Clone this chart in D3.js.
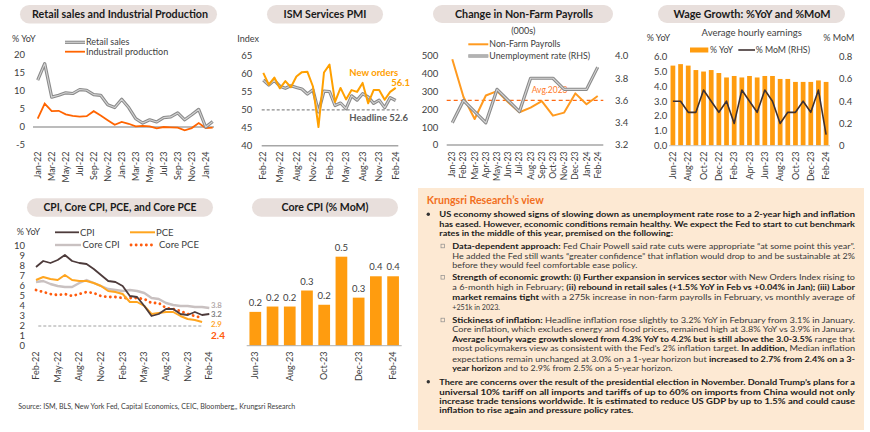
<!DOCTYPE html>
<html><head><meta charset="utf-8">
<script src="https://cdn.jsdelivr.net/npm/d3@7"></script>
<style>
body{margin:0;background:#fff}
svg{display:block}
text{font-family:Lato,'Open Sans',sans-serif}
</style></head>
<body><svg id="c" width="870" height="432"></svg>
<script>
// ---------------- DATA ----------------
const months = ["Jan-22","Feb-22","Mar-22","Apr-22","May-22","Jun-22","Jul-22","Aug-22","Sep-22","Oct-22","Nov-22","Dec-22",
  "Jan-23","Feb-23","Mar-23","Apr-23","May-23","Jun-23","Jul-23","Aug-23","Sep-23","Oct-23","Nov-23","Dec-23","Jan-24","Feb-24"];

// Chart 1: Retail sales & industrial production (% YoY), Jan-22..Feb-24
const retailMonths = months;
const retailSales = [13.0,17.6,8.3,8.8,9.5,9.3,10.4,10.2,9.0,8.8,6.2,5.4,7.7,5.4,2.3,1.1,2.0,1.4,2.6,2.8,3.9,2.0,3.4,4.9,0.0,1.5];
const industrialProd = [2.3,6.5,4.4,4.5,3.5,3.1,2.9,3.0,4.4,3.2,1.9,0.6,1.4,0.9,0.2,0.3,0.2,-0.4,0.0,-0.1,-0.2,-0.9,-0.3,1.1,-0.3,-0.2];
const retailTicks = [-5,0,5,10,15,20];
const retailLabels = ["Jan-22","Mar-22","May-22","Jul-22","Sep-22","Nov-22","Jan-23","Mar-23","May-23","Jul-23","Sep-23","Nov-23","Jan-24"];

// Chart 2: ISM services PMI, Feb-22..Feb-24
const ismMonths = months.slice(1);
const ismNewOrders = [60.3,57.0,59.0,56.0,58.0,56.3,59.3,60.5,60.6,56.5,45.2,60.4,62.6,52.2,56.1,52.9,55.5,55.0,57.5,51.8,55.5,55.5,52.8,55.0,56.1];
const ismHeadline = [58.3,56.9,58.2,56.6,56.0,56.7,56.2,55.8,54.4,55.6,49.4,55.2,55.1,51.2,51.9,50.3,53.9,52.7,54.5,53.6,51.8,52.7,50.6,53.4,52.6];
const ismTicks = [40,45,50,55,60,65];
const ismLabels = ["Feb-22","May-22","Aug-22","Nov-22","Feb-23","May-23","Aug-23","Nov-23","Feb-24"];
const ismRef = 50;

// Chart 3: Non-farm payrolls (000s) & unemployment rate, Jan-23..Feb-24
const nfpMonths = months.slice(12);
const payrolls = [482,270,146,278,303,240,184,210,246,165,182,290,229,275];
const unemployment = [3.4,3.6,3.5,3.4,3.7,3.6,3.5,3.8,3.8,3.8,3.7,3.7,3.7,3.9];
const nfpAvg2023 = 251;
const nfpTicks = [0,100,200,300,400,500];
const urTicks = [3.2,3.4,3.6,3.8,4.0];

// Chart 4: Wage growth, Jun-22..Feb-24
const wageMonths = months.slice(5);
const wageYoY = [5.4,5.5,5.4,5.1,5.0,5.1,4.9,4.6,4.7,4.6,4.7,4.6,4.7,4.7,4.5,4.5,4.3,4.3,4.3,4.4,4.3];
const wageMoM = [0.4,0.4,0.3,0.3,0.5,0.4,0.3,0.4,0.2,0.5,0.4,0.3,0.5,0.4,0.2,0.3,0.3,0.4,0.3,0.5,0.1];
const wageTicksL = [0,1,2,3,4,5,6];
const wageTicksR = [0,0.2,0.4,0.6,0.8];
const wageLabels = ["Jun-22","Aug-22","Oct-22","Dec-22","Feb-23","Apr-23","Jun-23","Aug-23","Oct-23","Dec-23","Feb-24"];

// Chart 5: CPI, Core CPI, PCE, Core PCE (% YoY), Feb-22..Feb-24
const cpiMonths = months.slice(1);
const cpi = [7.9,8.5,8.3,8.6,9.1,8.5,8.3,8.2,7.7,7.1,6.5,6.4,6.0,5.0,4.9,4.0,3.0,3.2,3.7,3.7,3.2,3.1,3.4,3.1,3.2];
const coreCpi = [6.4,6.5,6.2,6.0,5.9,5.9,6.3,6.6,6.3,6.0,5.7,5.6,5.5,5.6,5.5,5.3,4.8,4.7,4.3,4.1,4.0,4.0,3.9,3.9,3.8];
const pce = [6.6,6.9,6.7,6.6,7.1,6.6,6.5,6.5,6.3,6.0,5.5,5.4,5.2,4.4,4.4,4.0,3.2,3.3,3.4,3.4,3.0,2.7,2.6,2.4];
const corePce = [5.6,5.4,5.2,5.1,5.2,5.0,5.2,5.4,5.3,5.0,4.9,4.9,4.8,4.8,4.8,4.7,4.3,4.3,3.8,3.7,3.5,3.2,3.0,2.8];
const cpiTicks = [0,1,2,3,4,5,6,7,8,9,10];
const cpiLabels = ["Feb-22","May-22","Aug-22","Nov-22","Feb-23","May-23","Aug-23","Nov-23","Feb-24"];
const cpiTarget = 2;
const cpiEndLabels = ["3.8","3.2","2.9","2.4"];

// Chart 6: Core CPI (% MoM), Jun-23..Feb-24
const coreMoMMonths = months.slice(17);
const coreMoM = [0.19,0.22,0.22,0.31,0.23,0.5,0.27,0.39,0.39];
const coreMoMLabels = ["Jun-23","Aug-23","Oct-23","Dec-23","Feb-24"];

// Text panel
const viewLines = [
 {mark:"dot", lvl:1, runs:[[1,"US economy showed signs of slowing down as unemployment rate rose to a 2-year high and inflation"]]},
 {lvl:1, runs:[[1,"has eased. However, economic conditions remain healthy. We expect the Fed to start to cut benchmark"]]},
 {lvl:1, runs:[[1,"rates in the middle of this year, premised on the following:"]]},
 {mark:"sq", lvl:2, runs:[[1,"Data-dependent approach:"],[0," Fed Chair Powell said rate cuts were appropriate \u201cat some point this year\u201d."]]},
 {lvl:2, runs:[[0,"He added the Fed still wants \u201cgreater confidence\u201d that inflation would drop to and be sustainable at 2%"]]},
 {lvl:2, runs:[[0,"before they would feel comfortable ease policy."]]},
 {mark:"sq", lvl:2, runs:[[1,"Strength of economic growth: (i) Further expansion in services sector"],[0," with New Orders Index rising to"]]},
 {lvl:2, runs:[[0,"a 6-month high in February; "],[1,"(ii) rebound in retail sales (+1.5% YoY in Feb vs +0.04% in Jan); (iii) Labor"]]},
 {lvl:2, runs:[[1,"market remains tight"],[0," with a 275k increase in non-farm payrolls in February, vs monthly average of"]]},
 {lvl:2, runs:[[0,"+251k in 2023."]]},
 {mark:"sq", lvl:2, runs:[[1,"Stickiness of inflation:"],[0," Headline inflation rose slightly to 3.2% YoY in February from 3.1% in January."]]},
 {lvl:2, runs:[[0,"Core inflation, which excludes energy and food prices, remained high at 3.8% YoY vs 3.9% in January."]]},
 {lvl:2, runs:[[1,"Average hourly wage growth slowed from 4.3% YoY to 4.2% but is still above the 3.0-3.5%"],[0," range that"]]},
 {lvl:2, runs:[[0,"most policymakers view as consistent with the Fed\u2019s 2% inflation target. "],[1,"In addition,"],[0," Median inflation"]]},
 {lvl:2, runs:[[0,"expectations remain unchanged at 3.0% on a 1-year horizon but "],[1,"increased to 2.7% from 2.4% on a 3-"]]},
 {lvl:2, runs:[[1,"year horizon"],[0," and to 2.9% from 2.5% on a 5-year horizon."]]},
 {mark:"dot", lvl:1, runs:[[1,"There are concerns over the result of the presidential election in November. Donald Trump\u2019s plans for a"]]},
 {lvl:1, runs:[[1,"universal 10% tariff on all imports and tariffs of up to 60% on imports from China would not only"]]},
 {lvl:1, runs:[[1,"increase trade tensions worldwide. It is estimated to reduce US GDP by up to 1.5% and could cause"]]},
 {lvl:1, runs:[[1,"inflation to rise again and pressure policy rates."]]}
];

// ---------------- LAYOUT / STYLE ----------------
const svg = d3.select("#c");
const PILL = "#e8dfdc", TXT = "#404040", AXIS = "#a6a6a6";
const GREY_OUT = "#8a8a8a", GREY_IN = "#d4d4d4";

function txt(g, x, y, t, o={}) {
  const el = g.append("text").attr("x",x).attr("y",y).attr("dy","0.35em")
    .attr("font-size",o.size||9).attr("font-weight",o.weight||"normal")
    .attr("fill",o.fill||TXT).attr("text-anchor",o.anchor||"start").text(t);
  if (o.tl) el.attr("textLength",o.tl).attr("lengthAdjust","spacingAndGlyphs");
  return el;
}
function pill(x0,x1,y0,y1,label,cx,tl){
  svg.append("rect").attr("x",x0).attr("y",y0).attr("width",x1-x0).attr("height",y1-y0)
    .attr("rx",(y1-y0)/2).attr("fill",PILL);
  txt(svg,cx,(y0+y1)/2,label,{size:11,weight:"bold",fill:"#1a1a1a",anchor:"middle",tl:tl});
}
function yLabels(g, scale, ticks, x, anchor, fmt){
  g.selectAll(null).data(ticks).join("text")
    .attr("x",x).attr("y",d=>scale(d)).attr("dy","0.35em")
    .attr("text-anchor",anchor).attr("font-size",9.5).attr("fill",TXT)
    .text(d=>fmt?fmt(d):d);
}
function xLabels(g, labels, xpos, yTop, size){
  g.selectAll(null).data(labels).join("text")
    .attr("transform",d=>`translate(${xpos(d)},${yTop}) rotate(-90)`)
    .attr("text-anchor","end").attr("dy","0.35em")
    .attr("font-size",size||9).attr("fill",TXT).text(d=>d);
}
function greyLine(g, d){
  g.append("path").attr("d",d).attr("fill","none").attr("stroke",GREY_OUT).attr("stroke-width",3.2).attr("stroke-linejoin","round");
  g.append("path").attr("d",d).attr("fill","none").attr("stroke",GREY_IN).attr("stroke-width",1.1).attr("stroke-linejoin","round");
}
function hline(g,x0,x1,y,stroke,w,dash){
  const l=g.append("line").attr("x1",x0).attr("x2",x1).attr("y1",y).attr("y2",y).attr("stroke",stroke).attr("stroke-width",w||1);
  if(dash) l.attr("stroke-dasharray",dash);
  return l;
}

// ---------------- CHART 1 ----------------
{
  const g = svg.append("g");
  pill(20,217,5,23.5,"Retail sales and Industrial Production",120,176);
  const x = d3.scalePoint().domain(retailMonths).range([37.7,212.7]);
  const y = d3.scaleLinear().domain([-5,20]).range([145,55]);
  txt(g,12,39,"% YoY",{size:9});
  yLabels(g,y,retailTicks,25,"end");
  hline(g,33,214,y(0),AXIS,1.5);
  const line = d3.line().x((d,i)=>x(retailMonths[i])).y(d=>y(d));
  g.append("path").attr("d",line(industrialProd)).attr("fill","none").attr("stroke","#ff6400").attr("stroke-width",1.8);
  greyLine(g,line(retailSales));
  xLabels(g,retailLabels,x,151.5,9);
  greyLine(g,`M65,42.3H85`);
  txt(g,86,42.3,"Retail sales",{size:9});
  hline(g,65,85,51.7,"#ff6400",1.8);
  txt(g,86,51.7,"Industrail production",{size:9});
}

// ---------------- CHART 2 ----------------
{
  const g = svg.append("g");
  pill(267,383,5,23.5,"ISM Services PMI",325,83);
  const x = d3.scalePoint().domain(ismMonths).range([263.3,395.7]);
  const y = d3.scaleLinear().domain([40,65]).range([145.7,56]);
  txt(g,237.3,39.3,"Index",{size:9});
  yLabels(g,y,ismTicks,252.3,"end");
  hline(g,261.7,398.3,y(40),AXIS,1.5);
  hline(g,261.7,398.3,y(ismRef),"#8c8c8c",1.2,"3,2");
  const line = d3.line().x((d,i)=>x(ismMonths[i])).y(d=>y(d));
  greyLine(g,line(ismHeadline));
  g.append("path").attr("d",line(ismNewOrders)).attr("fill","none").attr("stroke","#ffa000").attr("stroke-width",2).attr("stroke-linejoin","round");
  xLabels(g,ismLabels,x,151.5,9);
  txt(g,349.3,72.3,"New orders",{size:9.5,weight:"bold",fill:"#ffa000"});
  txt(g,410,82.7,d3.format(".1f")(ismNewOrders[ismNewOrders.length-1]),{size:9.5,weight:"bold",fill:"#ffa000",anchor:"end"});
  txt(g,349.3,117.7,"Headline "+d3.format(".1f")(ismHeadline[ismHeadline.length-1]),{size:9.5,weight:"bold",fill:"#595959"});
}

// ---------------- CHART 3 ----------------
{
  const g = svg.append("g");
  pill(433,613,5,23,"Change in Non-Farm Payrolls",524,138);
  txt(g,523.3,31,"(000s)",{size:9,anchor:"middle"});
  const x = d3.scalePoint().domain(nfpMonths).range([446.7,603.3]).padding(0.5);
  const yL = d3.scaleLinear().domain([0,500]).range([145,56]);
  const yR = d3.scaleLinear().domain([3.2,4.0]).range([145,56]);
  yLabels(g,yL,nfpTicks,438.3,"end");
  yLabels(g,yR,urTicks,615,"start",d3.format(".1f"));
  hline(g,446.7,603.3,yL(0),AXIS,1.5);
  hline(g,446.7,603.3,yL(nfpAvg2023),"#ff6a13",1.2,"4,3");
  txt(g,531.7,90,"Avg.2023",{size:8.5,fill:"#ff7a2a"});
  g.append("path").attr("d",d3.line().x((d,i)=>x(nfpMonths[i])).y(d=>yL(d))(payrolls))
    .attr("fill","none").attr("stroke","#ff9a1f").attr("stroke-width",2).attr("stroke-linejoin","round");
  greyLine(g,d3.line().x((d,i)=>x(nfpMonths[i])).y(d=>yR(d))(unemployment));
  xLabels(g,nfpMonths,x,151.5,8.6);
  hline(g,468.3,488.3,44.3,"#ff9a1f",2);
  txt(g,489.3,44.3,"Non-Farm Payrolls",{size:8.8});
  greyLine(g,"M468.3,56H488.3");
  txt(g,489.3,56,"Unemployment rate (RHS)",{size:8.8});
}

// ---------------- CHART 4 ----------------
{
  const g = svg.append("g");
  pill(658,845,5,23,"Wage Growth: %YoY and %MoM",752,157);
  txt(g,751.7,32.3,"Average hourly earnings",{size:9.5,anchor:"middle"});
  txt(g,646.7,38.3,"% YoY",{size:9});
  txt(g,823.3,38.3,"% MoM",{size:9});
  const x = d3.scaleBand().domain(wageMonths).range([669,830]).paddingInner(0.38).paddingOuter(0.2);
  const yL = d3.scaleLinear().domain([0,6]).range([145.7,56.7]);
  const yR = d3.scaleLinear().domain([0,0.8]).range([145.7,56.7]);
  yLabels(g,yL,wageTicksL,667.3,"end",d3.format(".1f"));
  yLabels(g,yR,wageTicksR,839,"start",d=>d===0?"0":d3.format(".1f")(d));
  g.selectAll(null).data(wageYoY).join("rect")
    .attr("x",(d,i)=>x(wageMonths[i])).attr("width",x.bandwidth())
    .attr("y",d=>yL(d)).attr("height",d=>yL(0)-yL(d)).attr("fill","#ff9c0f");
  hline(g,669,830,yL(0),"#c8c8c8",1);
  g.append("path").attr("d",d3.line().x((d,i)=>x(wageMonths[i])+x.bandwidth()/2).y(d=>yR(d))(wageMoM))
    .attr("fill","none").attr("stroke","#3f3131").attr("stroke-width",1.6).attr("stroke-linejoin","round");
  xLabels(g,wageLabels,d=>x(d)+x.bandwidth()/2,151.5,9);
  g.append("rect").attr("x",690).attr("y",47.5).attr("width",18.3).attr("height",5).attr("fill","#ff9c0f");
  txt(g,710,50,"% YoY",{size:8.8});
  hline(g,738.3,755,50,"#3f3131",1.6);
  txt(g,755.7,50,"% MoM (RHS)",{size:8.8});
}

// ---------------- CHART 5 ----------------
{
  const g = svg.append("g");
  pill(27,213,198.3,216.7,"CPI, Core CPI, PCE, and Core PCE",120,153);
  const x = d3.scalePoint().domain(cpiMonths).range([36,209.3]);
  const y = d3.scaleLinear().domain([0,10]).range([346,246]);
  txt(g,16.7,232.3,"% YoY",{size:9});
  yLabels(g,y,cpiTicks,25,"end");
  hline(g,38.3,203.3,y(cpiTarget),"#a0a0a0",1,"3,2");
  const line = d3.line().x((d,i)=>x(cpiMonths[i])).y(d=>y(d));
  g.append("path").attr("d",line(coreCpi)).attr("fill","none").attr("stroke","#c9c1c1").attr("stroke-width",2.4).attr("stroke-linejoin","round");
  g.append("path").attr("d",line(corePce)).attr("fill","none").attr("stroke","#ff5b0d").attr("stroke-width",2.8)
    .attr("stroke-linecap","round").attr("stroke-dasharray","0.1,5");
  g.append("path").attr("d",line(pce)).attr("fill","none").attr("stroke","#ffa51f").attr("stroke-width",2).attr("stroke-linejoin","round");
  g.append("path").attr("d",line(cpi)).attr("fill","none").attr("stroke","#4d3b3b").attr("stroke-width",1.8).attr("stroke-linejoin","round");
  xLabels(g,cpiLabels,x,351.5,9);
  // legend
  hline(g,55,79,232.3,"#4d3b3b",1.8); txt(g,80,232.3,"CPI",{size:9.5});
  hline(g,130,155,232.3,"#ffa51f",2); txt(g,156,232.3,"PCE",{size:9.5});
  hline(g,55,81,245,"#c9c1c1",2.4); txt(g,82.5,245,"Core CPI",{size:9.5});
  hline(g,131,156,245,"#ff5b0d",2.8).attr("stroke-linecap","round").attr("stroke-dasharray","0.1,5");
  txt(g,159,245,"Core PCE",{size:9.5});
  // end labels
  txt(g,211,305.3,cpiEndLabels[0],{size:7.8,weight:"bold",fill:"#b5acac"});
  txt(g,211,314.6,cpiEndLabels[1],{size:7.8,weight:"bold",fill:"#7f7f7f"});
  txt(g,211,323.9,cpiEndLabels[2],{size:7.8,weight:"bold",fill:"#ffa51f"});
  txt(g,211,335,cpiEndLabels[3],{size:10,weight:"bold",fill:"#ff5b0d"});
}

// ---------------- CHART 6 ----------------
{
  const g = svg.append("g");
  pill(252,398,198.3,216.7,"Core CPI (% MoM)",325,87);
  const x = d3.scaleBand().domain(coreMoMMonths).range([246.7,401.7]).paddingInner(0.32).paddingOuter(0.16);
  const y = d3.scaleLinear().domain([0,0.5]).range([345.7,256.7]);
  g.selectAll(null).data(coreMoM).join("rect")
    .attr("x",(d,i)=>x(coreMoMMonths[i])).attr("width",x.bandwidth())
    .attr("y",d=>y(d)).attr("height",d=>y(0)-y(d)).attr("fill","#ff9c0f");
  hline(g,246.7,401.7,y(0),"#b0b0b0",1);
  g.selectAll(null).data(coreMoM).join("text")
    .attr("x",(d,i)=>x(coreMoMMonths[i])+x.bandwidth()/2).attr("y",d=>y(d)-6)
    .attr("text-anchor","middle").attr("font-size",9.5).attr("fill",TXT)
    .text(d=>d3.format(".1f")(d));
  xLabels(g,coreMoMLabels,d=>x(d)+x.bandwidth()/2,351.5,9);
}

// ---------------- SOURCE ----------------
txt(svg,18.3,406,"Source: ISM, BLS, New York Fed, Capital Economics, CEIC, Bloomberg,, Krungsri Research",{size:7.5,tl:277});

// ---------------- TEXT PANEL ----------------
{
  const g = svg.append("g");
  g.append("rect").attr("x",418).attr("y",188).attr("width",446).attr("height",242).attr("fill","#fde9d3");
  txt(g,426.7,200,"Krungsri Research\u2019s view",{size:11,weight:"bold",fill:"#f26f21",tl:117});
  const lineY = [214.3,224,233.3,246,255.7,265,277.3,286.7,297,307,320,329.3,339,348.3,359,368.3,381.7,391.7,401,410];
  const lineEnd = [855,855,673,855,855,637.3,855,855,855,500,855,855,855,855,855,672.7,855,855,855,633.3];
  viewLines.forEach((ln,i)=>{
    const x0 = ln.lvl===1 ? 439.3 : 452.3;
    const yc = lineY[i];
    if (ln.mark==="dot") g.append("circle").attr("cx",428.3).attr("cy",yc).attr("r",1.7).attr("fill","#333");
    if (ln.mark==="sq") g.append("rect").attr("x",441).attr("y",yc-1.8).attr("width",3.6).attr("height",3.6)
        .attr("fill","none").attr("stroke","#8c8c8c").attr("stroke-width",0.7);
    const t = g.append("text").attr("x",x0).attr("y",yc).attr("dy","0.35em").attr("font-size",8.3)
      .attr("textLength",lineEnd[i]-x0).attr("lengthAdjust","spacingAndGlyphs").style("white-space","pre");
    ln.runs.forEach(r=>t.append("tspan").attr("font-weight",r[0]?"bold":"normal")
      .attr("fill",r[0]?"#1a1a1a":"#383838").text(r[1]));
  });
}
</script>
</body></html>
